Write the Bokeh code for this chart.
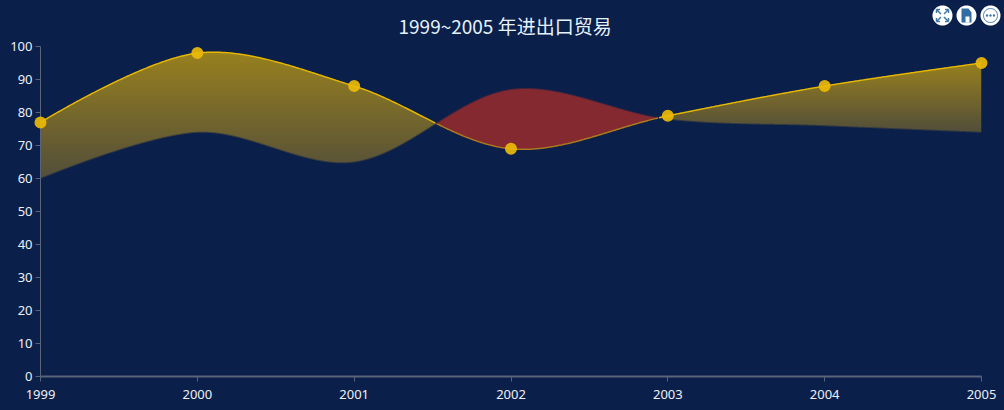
from bokeh.plotting import figure
from bokeh.embed import file_html
from bokeh.resources import INLINE
from bokeh.models import Range1d, LinearAxis, FixedTicker, Title
import numpy as np

years = [1999, 2000, 2001, 2002, 2003, 2004, 2005]
upper = [77, 98, 88, 69, 79, 88, 95]
lower = [60, 74, 65, 87, 78, 76, 74]
title_text = "1999~2005 年进出口贸易"
y_ticks = list(range(0, 101, 10))

BG = "#0b1f4b"
W, H = 1004, 410
L, R, T, B = 40, 981, 46, 376
SX = (R - L) / (years[-1] - years[0])
SY = (B - T) / 100


def smooth(xs, ys, k=0.33, n=160):
    """ECharts-style smoothing done in pixel space, returned in data space."""
    P = np.column_stack([[(x - years[0]) * SX for x in xs], [-y * SY for y in ys]])
    cnt = len(P)
    out = []
    cp0 = P[0]
    for i in range(cnt - 1):
        a, b = P[i], P[i + 1]
        if i + 2 < cnt:
            c = P[i + 2]
            v = c - a
            l0, l1 = np.hypot(*(b - a)), np.hypot(*(c - b))
            r = l1 / (l0 + l1)
            c1 = b - v * k * (1 - r)
            nxt = b + v * k * r
        else:
            c1 = nxt = b
        t = np.linspace(0, 1, n, endpoint=i == cnt - 2)[:, None]
        out.append((1 - t) ** 3 * a + 3 * (1 - t) ** 2 * t * cp0 + 3 * (1 - t) * t ** 2 * c1 + t ** 3 * b)
        cp0 = nxt
    o = np.vstack(out)
    return o[:, 0] / SX + years[0], -o[:, 1] / SY


ux, uy = smooth(years, upper)
lx, ly = smooth(years, lower)

# Band image: 4x supersampled so its edges are anti-aliased.
SS = 4
TOP_RGB = np.array([152.0, 128.0, 30.0])
BOT_RGB = np.array([82.0, 78.0, 58.0])
RED_RGB = np.array([131.0, 41.0, 47.0])
y_min_img = 50.0
nx = (R - L) * SS
ny = int(round((100 - y_min_img) * SY)) * SS
sub_x = years[0] + (np.arange(nx) + 0.5) / SS / SX
sub_y = y_min_img + (np.arange(ny) + 0.5) / SS / SY
gu = np.interp(sub_x, ux, uy)
gl = np.interp(sub_x, lx, ly)
YY = sub_y[:, None]
yellow = (YY >= gl) & (YY <= gu)
red = (YY >= gu) & (YY <= gl)
col = np.zeros((ny, nx, 3))
col[red] = RED_RGB
above = gu > gl
runs = np.cumsum(np.r_[0, above[1:] != above[:-1]])
for run in np.unique(runs):
    m = runs == run
    if not above[m][0]:
        continue
    top, bot = gu[m].max(), gl[m].min()
    f = np.clip((top - YY) / (top - bot), 0, 1)
    shade = TOP_RGB[None, None, :] + (BOT_RGB - TOP_RGB)[None, None, :] * f[:, :, None]
    region = yellow & m[None, :]
    col[region] = np.broadcast_to(shade, (ny, nx, 3))[region]
cover = (yellow | red).astype(float)


def down(arr):
    return arr.reshape(ny // SS, SS, nx // SS, SS).mean(axis=(1, 3))


alpha = down(cover)
rgb = np.stack([down(col[:, :, i] * cover) for i in range(3)], axis=2)
safe = np.where(alpha > 0, alpha, 1)[:, :, None]
rgb = np.clip(rgb / safe, 0, 255)
rgba = np.dstack([rgb, alpha * 255]).round().astype(np.uint8)
img = rgba.view(np.uint32).reshape(rgba.shape[:2]).copy()

p = figure(width=W, height=H, output_backend="svg", toolbar_location=None,
           x_range=Range1d(years[0], years[-1]), y_range=Range1d(0, 100),
           min_border_left=L, min_border_right=W - R, min_border_top=T, min_border_bottom=H - B,
           background_fill_color=BG, border_fill_color=BG, outline_line_color=None,
           x_axis_type=None, y_axis_type=None, title=None)
p.grid.visible = False

p.add_layout(Title(text=title_text, align="left", offset=358, standoff=16, text_color="#e6f2fa",
                   text_font="Noto Sans CJK SC", text_font_size="19px", text_font_style="normal"), "above")

p.image_rgba(image=[img], x=years[0], y=y_min_img, dw=years[-1] - years[0], dh=100 - y_min_img)

for side, ticks in (("left", y_ticks), ("below", years)):
    ax = LinearAxis(ticker=FixedTicker(ticks=ticks))
    ax.axis_line_color = "#5a6478"
    ax.major_tick_line_color = "#5a6478"
    ax.minor_tick_line_color = None
    ax.major_tick_out = 5
    ax.major_tick_in = 0
    ax.major_label_text_color = "#eef0f5"
    ax.major_label_text_font = "Noto Sans"
    ax.major_label_text_font_size = "13px"
    ax.major_label_standoff = 8 if side == "below" else 3
    ax.axis_line_width = 1 if side == "left" else 2
    p.add_layout(ax, side)

# Upper line: bright over the yellow band, dulled over the red band.
line_above = np.interp(ux, lx, ly) <= uy
p.line(ux, np.where(line_above, uy, np.nan), line_color="#e6b600", line_width=1.5, level="overlay")
p.line(ux, np.where(line_above, np.nan, uy), line_color="#b07a1c", line_width=1.5, level="overlay")
p.scatter(years, upper, size=12, fill_color="#ebba05", fill_alpha=0.92, line_color=None, level="overlay")

# Page-pixel ranges for the toolbox; patches and lines are not culled outside the frame.
p.extra_x_ranges["px"] = Range1d(L, R)
p.extra_y_ranges["px"] = Range1d(B, T)
kw = dict(x_range_name="px", y_range_name="px", level="overlay")

centers = [942, 966, 990]
cy = 15
ICON = "#3c78aa"
ang = np.linspace(0, 2 * np.pi, 49)


def disc(cx, c_y, r, color):
    p.patch(cx + r * np.cos(ang), c_y + r * np.sin(ang), fill_color=color, line_color=None, **kw)


for c in centers:
    disc(c, cy, 10, "white")
# full screen: four corner arrows
cx = centers[0]
for dx, dy in ((-1, -1), (1, -1), (-1, 1), (1, 1)):
    p.segment([cx + dx * 1.5], [cy + dy * 1.5], [cx + dx * 6], [cy + dy * 6], line_color=ICON, line_width=1.5, **kw)
    p.segment([cx + dx * 6, cx + dx * 6], [cy + dy * 6, cy + dy * 6], [cx + dx * 2.5, cx + dx * 6],
              [cy + dy * 6, cy + dy * 2.5], line_color=ICON, line_width=1.5, **kw)
# save: document
cx = centers[1]
p.patch([cx - 5, cx + 2, cx + 5, cx + 5, cx - 5], [cy - 7, cy - 7, cy - 3, cy + 7, cy + 7], fill_color="#2f6da3", line_color=None, **kw)
p.patch([cx - 1, cx + 3, cx + 3, cx - 1], [cy + 1, cy + 1, cy + 7, cy + 7], fill_color="white", line_color=None, **kw)
# more: ring and three dots
cx = centers[2]
p.line(cx + 7 * np.cos(ang), cy + 7 * np.sin(ang), line_color=ICON, line_width=1, **kw)
for off in (-3.5, 0, 3.5):
    disc(cx + off, cy, 1.2, ICON)

html = file_html(p, INLINE, template=(
    "{% block preamble %}<style>html,body{margin:0;padding:0;overflow:hidden;background:"
    + BG + "}</style>{% endblock %}"))
open("out.html", "w").write(html)
